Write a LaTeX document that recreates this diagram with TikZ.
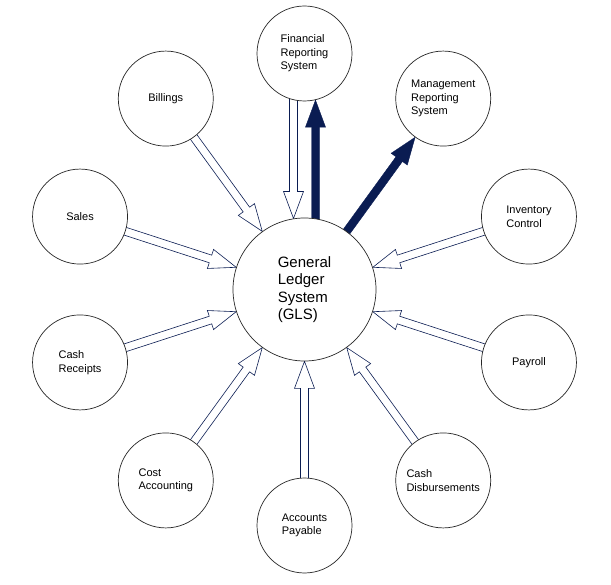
\documentclass[tikz,border=0pt]{standalone}
\usepackage{fontspec}
\setmainfont{Liberation Sans}
\usetikzlibrary{calc}
\definecolor{ledgerblue}{RGB}{10,28,82}
\pgfdeclarelayer{background}
\pgfsetlayers{background,main}
\tikzset{
    sys/.style = {circle, draw = black!85, line width = 0.7pt, fill = white,
        minimum size = 95pt, inner sep = 0pt, align = left,
        font = \fontsize{11}{13.5}\selectfont},
    gl/.style = {sys, minimum size = 143pt, font = \fontsize{15}{17.3}\selectfont},
    inflow/.style = {draw = ledgerblue, line width = 0.6pt, fill = white, line join = miter},
    outflow/.style = {draw = ledgerblue, line width = 0.4pt, fill = ledgerblue, line join = miter}
}
% \flow[offset]{style}{from}{to}
\newcommand\flow[4][0]{%
    \path[#2] let \p1 = (#3.center), \p2 = (#4.center),
        \p3 = ($(#3.east)-(#3.center)$), \p4 = ($(#4.east)-(#4.center)$),
        \n1 = {atan2(\y2-\y1,\x2-\x1)}, \n2 = {sqrt((\x4)^2-(#1)^2)} in
        ($(\p1)+(\n1:\x3-10pt)+(\n1+90:#1pt+4pt)$)
        -- ($(\p2)-(\n1:\n2*1pt+27pt)+(\n1+90:#1pt+4pt)$)
        -- ($(\p2)-(\n1:\n2*1pt+27pt)+(\n1+90:#1pt+10pt)$)
        -- ($(\p2)-(\n1:\n2*1pt)+(\n1+90:#1pt)$)
        -- ($(\p2)-(\n1:\n2*1pt+27pt)+(\n1+90:#1pt-10pt)$)
        -- ($(\p2)-(\n1:\n2*1pt+27pt)+(\n1+90:#1pt-4pt)$)
        -- ($(\p1)+(\n1:\x3-10pt)+(\n1+90:#1pt-4pt)$) -- cycle;}

\begin{document}
\begin{tikzpicture}
    \useasboundingbox (0,0) rectangle (611pt,-585pt);
    \node[gl] (gls) at (304.5pt,-289.5pt) {General\\Ledger\\System\\(GLS)};
    \node[sys] (fin) at ($(gls)+(90:236pt)$) {Financial\\Reporting\\System};
    \node[sys] (mgmt) at ($(gls)+(54:236pt)$) {Management\\Reporting\\System};
    \node[sys] (inv) at ($(gls)+(18:236pt)$) {Inventory\\Control};
    \node[sys] (pay) at ($(gls)+(-18:236pt)$) {Payroll};
    \node[sys] (disb) at ($(gls)+(-54:236pt)$) {Cash\\Disbursements};
    \node[sys] (ap) at ($(gls)+(-90:236pt)$) {Accounts\\Payable};
    \node[sys] (cost) at ($(gls)+(-126:236pt)$) {Cost\\Accounting};
    \node[sys] (rcpt) at ($(gls)+(-162:236pt)$) {Cash\\Receipts};
    \node[sys] (sales) at ($(gls)+(162:236pt)$) {Sales};
    \node[sys] (bill) at ($(gls)+(126:236pt)$) {Billings};
    \begin{pgfonlayer}{background}
    \flow[-11]{inflow}{fin}{gls}
    \flow[-11]{outflow}{gls}{fin}
    \flow{outflow}{gls}{mgmt}
    \flow{inflow}{inv}{gls}
    \flow{inflow}{pay}{gls}
    \flow{inflow}{disb}{gls}
    \flow{inflow}{ap}{gls}
    \flow{inflow}{cost}{gls}
    \flow{inflow}{rcpt}{gls}
    \flow{inflow}{sales}{gls}
    \flow{inflow}{bill}{gls}
    \end{pgfonlayer}
\end{tikzpicture}
\end{document}
